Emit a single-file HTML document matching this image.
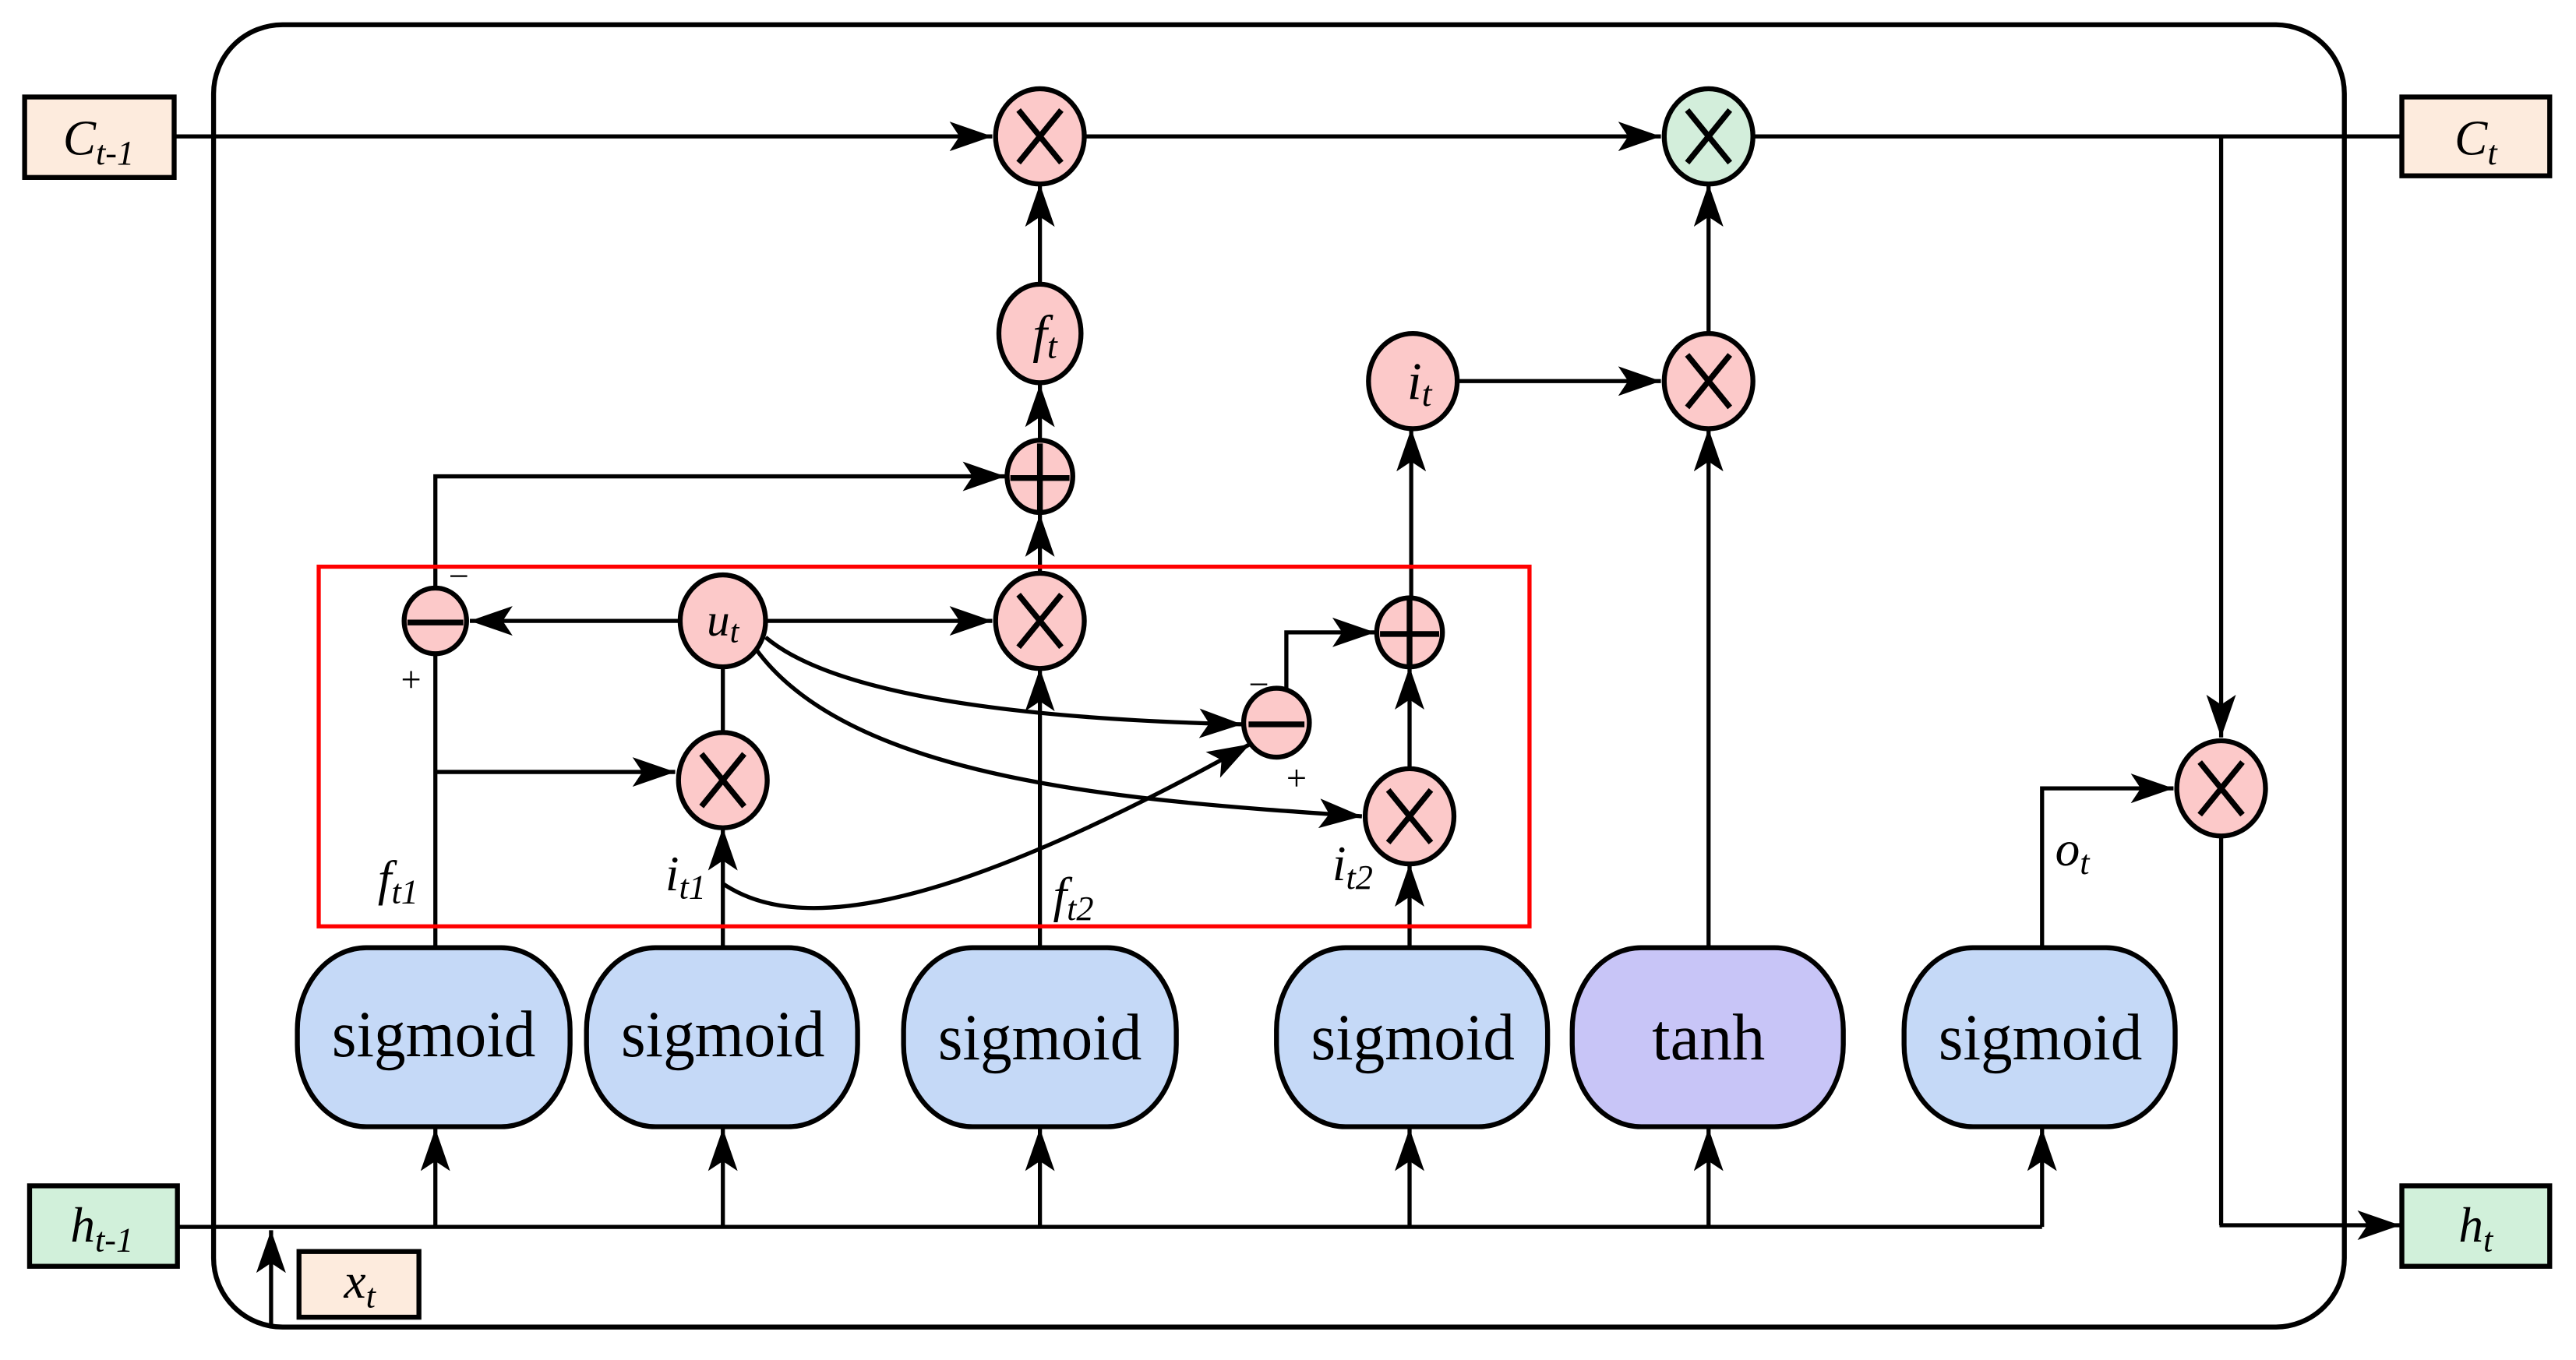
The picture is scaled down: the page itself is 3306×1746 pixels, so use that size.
<!DOCTYPE html>
<html><head><meta charset="utf-8"><style>
html,body{margin:0;padding:0;background:#fff;}
svg{display:block;}
text{font-family:"Liberation Serif",serif;}
</style></head><body>
<svg width="3306" height="1746" viewBox="0 0 1568 828" xmlns="http://www.w3.org/2000/svg">
<defs>
<marker id="A" markerWidth="26" markerHeight="18" refX="26" refY="9" orient="auto" markerUnits="userSpaceOnUse">
<path d="M0,0 L26,9 L0,18 L6,9 Z" fill="#000"/>
</marker>
</defs>
<g fill="none" stroke="#000" stroke-width="2.5">
<rect x="130" y="15" width="1297" height="793" rx="42" ry="42" stroke-width="3"/>
<line x1="106" y1="83" x2="604" y2="83" marker-end="url(#A)"/>
<line x1="661" y1="83" x2="1011" y2="83" marker-end="url(#A)"/>
<line x1="1068" y1="83" x2="1462" y2="83"/>
<line x1="1352" y1="83" x2="1352" y2="449" marker-end="url(#A)"/>
<line x1="1352" y1="508" x2="1352" y2="746"/>
<line x1="1351" y1="746" x2="1461" y2="746" marker-end="url(#A)"/>
<line x1="633" y1="173" x2="633" y2="112" marker-end="url(#A)"/>
<line x1="633" y1="268" x2="633" y2="234" marker-end="url(#A)"/>
<line x1="633" y1="350" x2="633" y2="313" marker-end="url(#A)"/>
<polyline points="265,359 265,290 612,290" marker-end="url(#A)"/>
<line x1="1040" y1="577" x2="1040" y2="261" marker-end="url(#A)"/>
<line x1="1040" y1="204" x2="1040" y2="112" marker-end="url(#A)"/>
<line x1="888" y1="232" x2="1011" y2="232" marker-end="url(#A)"/>
<line x1="859" y1="365" x2="859" y2="261" marker-end="url(#A)"/>
<line x1="858" y1="469" x2="858" y2="406" marker-end="url(#A)"/>
<line x1="858" y1="577" x2="858" y2="526" marker-end="url(#A)"/>
<polyline points="783,421 783,385 837,385" marker-end="url(#A)"/>
<line x1="414" y1="378" x2="286" y2="378" marker-end="url(#A)"/>
<line x1="466" y1="378" x2="604" y2="378" marker-end="url(#A)"/>
<line x1="440" y1="406" x2="440" y2="447"/>
<path d="M466,388 C510,425 630,438 756,441" marker-end="url(#A)"/>
<path d="M460,395 C520,478 700,488 829,497" marker-end="url(#A)"/>
<path d="M440,538 C480,565 560,565 761,453" marker-end="url(#A)"/>
<line x1="265" y1="577" x2="265" y2="397"/>
<line x1="265" y1="470" x2="411" y2="470" marker-end="url(#A)"/>
<line x1="440" y1="577" x2="440" y2="504" marker-end="url(#A)"/>
<line x1="633" y1="577" x2="633" y2="407" marker-end="url(#A)"/>
<polyline points="1243,577 1243,480 1323,480" marker-end="url(#A)"/>
<line x1="108" y1="747" x2="1243" y2="747"/>
<line x1="265" y1="747" x2="265" y2="687" marker-end="url(#A)"/>
<line x1="440" y1="747" x2="440" y2="687" marker-end="url(#A)"/>
<line x1="633" y1="747" x2="633" y2="687" marker-end="url(#A)"/>
<line x1="858" y1="747" x2="858" y2="687" marker-end="url(#A)"/>
<line x1="1040" y1="747" x2="1040" y2="687" marker-end="url(#A)"/>
<line x1="1243" y1="747" x2="1243" y2="687" marker-end="url(#A)"/>
<line x1="165" y1="808" x2="165" y2="749" marker-end="url(#A)"/>
</g>
<rect x="194" y="345" width="737" height="219" fill="none" stroke="#f00" stroke-width="2.5"/>
<g stroke="#000" stroke-width="3">
<rect x="15" y="59" width="91" height="49" fill="#fdebdd"/>
<rect x="1462" y="59" width="90" height="48" fill="#fdebdd"/>
<rect x="18" y="722" width="90" height="49" fill="#d1f0da"/>
<rect x="1462" y="722" width="90" height="49" fill="#d1f0da"/>
<rect x="182" y="762" width="73" height="40" fill="#fdebdd"/>
</g>
<g font-size="30" font-style="italic" text-anchor="middle">
<text x="60" y="94">C<tspan font-size="21" dy="6">t-1</tspan></text>
<text x="1507" y="94">C<tspan font-size="21" dy="6">t</tspan></text>
<text x="62" y="756">h<tspan font-size="21" dy="6">t-1</tspan></text>
<text x="1507" y="756">h<tspan font-size="21" dy="6">t</tspan></text>
<text x="219" y="790">x<tspan font-size="21" dy="6">t</tspan></text>
</g>
<g stroke="#000" stroke-width="3" fill="#c5d9f7">
<rect x="181" y="577" width="166" height="109" rx="42" ry="50"/>
<rect x="357" y="577" width="165" height="109" rx="42" ry="50"/>
<rect x="550" y="577" width="166" height="109" rx="42" ry="50"/>
<rect x="777" y="577" width="165" height="109" rx="42" ry="50"/>
<rect x="957" y="577" width="165" height="109" rx="42" ry="50" fill="#c8c5f7"/>
<rect x="1159" y="577" width="165" height="109" rx="42" ry="50"/>
</g>
<g font-size="40" text-anchor="middle">
<text x="264" y="643" textLength="124" lengthAdjust="spacingAndGlyphs">sigmoid</text>
<text x="440" y="643" textLength="124" lengthAdjust="spacingAndGlyphs">sigmoid</text>
<text x="633" y="645" textLength="124" lengthAdjust="spacingAndGlyphs">sigmoid</text>
<text x="860" y="645" textLength="124" lengthAdjust="spacingAndGlyphs">sigmoid</text>
<text x="1040" y="645">tanh</text>
<text x="1242" y="645" textLength="124" lengthAdjust="spacingAndGlyphs">sigmoid</text>
</g>
<g stroke="#000" stroke-width="3" fill="#fcc9c9">
<ellipse cx="633" cy="83" rx="27" ry="29"/>
<ellipse cx="1040" cy="83" rx="27" ry="29" fill="#d3eedb"/>
<ellipse cx="633" cy="203" rx="25" ry="30"/>
<ellipse cx="633" cy="290" rx="20" ry="22"/>
<ellipse cx="860" cy="232" rx="27" ry="29"/>
<ellipse cx="1040" cy="232" rx="27" ry="29"/>
<ellipse cx="265" cy="378" rx="19" ry="20"/>
<ellipse cx="440" cy="378" rx="26" ry="28"/>
<ellipse cx="633" cy="378" rx="27" ry="29"/>
<ellipse cx="858" cy="385" rx="20" ry="21"/>
<ellipse cx="777" cy="440" rx="20" ry="21"/>
<ellipse cx="440" cy="475" rx="27" ry="29"/>
<ellipse cx="858" cy="497" rx="27" ry="29"/>
<ellipse cx="1352" cy="480" rx="27" ry="29"/>
</g>
<g stroke="#000" stroke-width="3.5" fill="none">
<path d="M620,67 L646,99 M646,67 L620,99"/>
<path d="M1027,67 L1053,99 M1053,67 L1027,99"/>
<path d="M1027,216 L1053,248 M1053,216 L1027,248"/>
<path d="M620,362 L646,394 M646,362 L620,394"/>
<path d="M427,459 L453,491 M453,459 L427,491"/>
<path d="M845,481 L871,513 M871,481 L845,513"/>
<path d="M1339,464 L1365,496 M1365,464 L1339,496"/>
<path d="M615,291 L651,291 M633,270 L633,312"/>
<path d="M840,386 L876,386 M858,365 L858,406"/>
<path d="M248,379 L282,379"/>
<path d="M760,441 L794,441"/>
</g>
<g font-size="32" font-style="italic" text-anchor="middle">
<text x="636" y="214">f<tspan font-size="22" dy="4">t</tspan></text>
<text x="864" y="243">i<tspan font-size="22" dy="4">t</tspan></text>
<text x="440" y="387" font-size="28">u<tspan font-size="20" dy="4">t</tspan></text>
</g>
<g font-size="30" font-style="italic">
<text x="230" y="545">f<tspan font-size="21" dy="5">t1</tspan></text>
<text x="405" y="542">i<tspan font-size="21" dy="5">t1</tspan></text>
<text x="641" y="555">f<tspan font-size="21" dy="5">t2</tspan></text>
<text x="811" y="536">i<tspan font-size="21" dy="5">t2</tspan></text>
<text x="1251" y="527">o<tspan font-size="21" dy="5">t</tspan></text>
</g>
<g font-size="22">
<text x="273" y="358">−</text>
<text x="244" y="421">+</text>
<text x="760" y="424">−</text>
<text x="783" y="481">+</text>
</g>
</svg>
</body></html>
